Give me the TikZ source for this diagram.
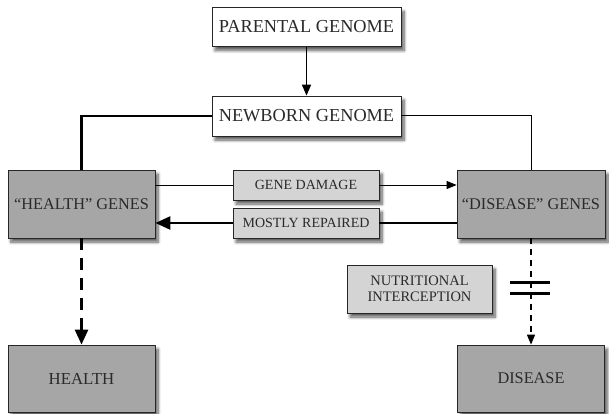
\documentclass[tikz,border=0pt]{standalone}
\usepackage{fontspec}
\setmainfont{Liberation Serif}
\usetikzlibrary{arrows.meta,shadows.blur,calc}
\definecolor{genegray}{HTML}{A6A6A6}
\definecolor{labelgray}{HTML}{D4D4D4}
\definecolor{txt}{HTML}{2A2A2A}
\tikzset{
  box/.style={draw=black!85, line width=0.8pt, inner sep=0pt, text=txt, align=center,
    blur shadow={shadow xshift=3pt, shadow yshift=-4pt, shadow blur radius=3pt, shadow blur steps=8, shadow opacity=65}},
  topbox/.style={box, fill=white, minimum width=189pt, minimum height=39pt, font=\fontsize{18.3}{20}\selectfont},
  genebox/.style={box, fill=genegray, minimum width=147pt, minimum height=68pt, font=\fontsize{16.3}{18}\selectfont},
  endbox/.style={box, fill=genegray, minimum width=147pt, minimum height=67pt, font=\fontsize{16.3}{18}\selectfont},
  labbox/.style={box, fill=labelgray, minimum width=146pt, minimum height=30pt, font=\fontsize{14}{16}\selectfont},
  thinline/.style={line width=1pt, black},
  thickline/.style={line width=2.6pt, black},
  thinarrow/.style={thinline, -{Triangle[length=10pt,width=8pt]}},
  midarrow/.style={line width=1.6pt, -{Triangle[length=11pt,width=9pt]}},
  thickarrow/.style={thickline, -{Triangle[length=15pt,width=13pt]}},
  bar/.style={line width=3pt, black},
}
\begin{document}
\begin{tikzpicture}[x=1pt,y=-1pt]
\useasboundingbox (0,0) rectangle (609,414);
\node[topbox] (parental) at (306.5,27) {PARENTAL GENOME};
\node[topbox, minimum height=40pt] (newborn) at (306.5,116) {NEWBORN GENOME};
\node[genebox] (hgenes) at (81.5,204) {“HEALTH” GENES};
\node[genebox, minimum width=148pt] (dgenes) at (531,204) {“DISEASE” GENES};
\node[labbox] (damage) at (306,185) {GENE DAMAGE};
\node[labbox] (repaired) at (306,223) {MOSTLY REPAIRED};
\node[endbox, font=\fontsize{16.8}{18}\selectfont] (health) at (81.5,378.5) {HEALTH};
\node[endbox] (disease) at (531,378.5) {DISEASE};
\node[labbox, minimum width=145pt, minimum height=48pt, font=\fontsize{14.5}{15.5}\selectfont] (nutri) at (419.5,289) {NUTRITIONAL\\INTERCEPTION};
\coordinate (cut) at (530,287.5);

\draw[midarrow] (parental) -- (newborn);
\draw[thickline] (newborn.west) -| (hgenes.north);
\draw[thinline] (newborn.east) -| (dgenes.north);
\draw[thinline] (hgenes.east |- damage.west) -- (damage.west);
\draw[thinarrow] (damage.east) -- (dgenes.west |- damage.east);
\draw[thickline] (dgenes.west |- repaired.east) -- (repaired.east);
\draw[thickarrow] (repaired.west) -- (hgenes.east |- repaired.west);
\draw[thickarrow, dash pattern=on 12pt off 8pt] (hgenes.south) -- (health.north);
\draw[thinarrow, line width=1.4pt, dash pattern=on 6pt off 5pt] (dgenes.south) -- (disease.north);
\draw[bar] ($(cut)+(-20,-5.5)$) -- ++(40,0);
\draw[bar] ($(cut)+(-20,5.5)$) -- ++(40,0);
\end{tikzpicture}
\end{document}
